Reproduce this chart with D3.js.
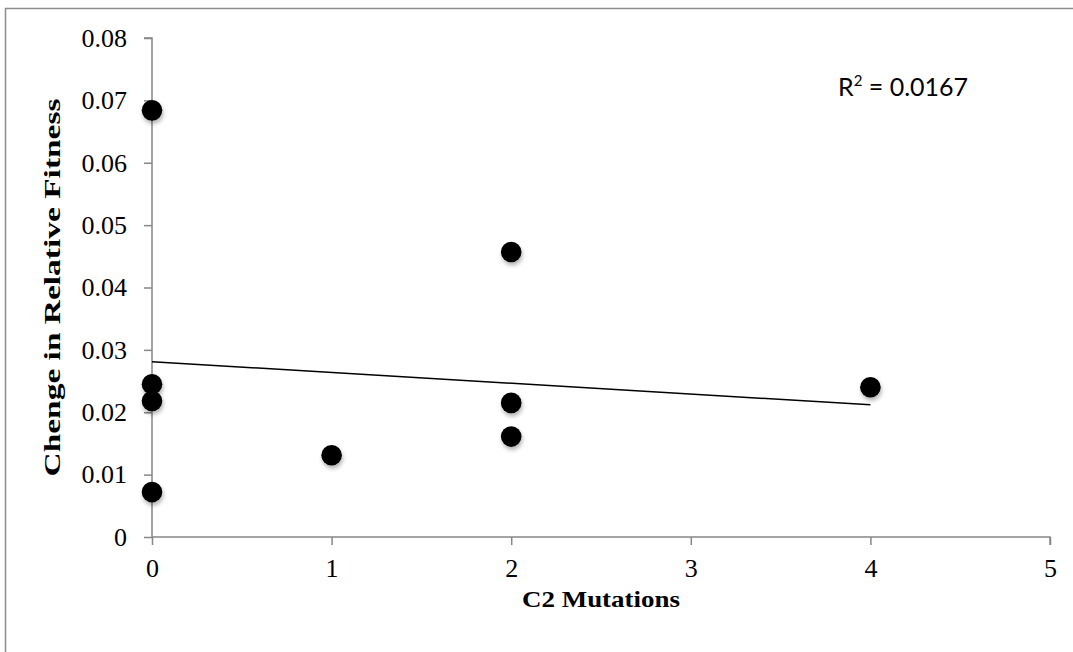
<!DOCTYPE html>
<html>
<head>
<meta charset="utf-8">
<script src="https://cdn.jsdelivr.net/npm/d3@7"></script>
<style>
  html, body { margin: 0; padding: 0; background: #fff; }
  svg { display: block; }
</style>
</head>
<body>
<svg id="chart" width="1073" height="652"></svg>
<script>
// ---- data ----
const mutations = [0, 0, 0, 0, 1, 2, 2, 2, 4];
const fitnessChange = [0.0684, 0.0245, 0.0218, 0.0072, 0.0131, 0.0457, 0.0215, 0.0161, 0.0240];
const trendX = [0, 4];
const trendY = [0.0281, 0.0212];
const xTicks = [0, 1, 2, 3, 4, 5];
const yTicks = [0, 0.01, 0.02, 0.03, 0.04, 0.05, 0.06, 0.07, 0.08];
const yTickLabels = ["0", "0.01", "0.02", "0.03", "0.04", "0.05", "0.06", "0.07", "0.08"];
const xTitle = "C2 Mutations";
const yTitle = "Chenge in Relative Fitness";
const r2Label = "0.0167";

const svg = d3.select("#chart");
const axisColor = "#878787";
const serif = "'Liberation Serif', 'Times New Roman', serif";

// outer border
svg.append("rect")
  .attr("x", 5.5).attr("y", 8.5)
  .attr("width", 1100).attr("height", 700)
  .attr("fill", "none").attr("stroke", "#8c8c8c").attr("stroke-width", 1.5);

const x = d3.scaleLinear().domain([0, 5]).range([152, 1050]);
const y = d3.scaleLinear().domain([0, 0.08]).range([537, 38]);

// drop shadow
const defs = svg.append("defs");
const f = defs.append("filter").attr("id", "shadow")
  .attr("x", "-50%").attr("y", "-50%").attr("width", "200%").attr("height", "200%");
f.append("feDropShadow").attr("dx", 1).attr("dy", 3).attr("stdDeviation", 2)
  .attr("flood-color", "#000").attr("flood-opacity", 0.3);

// y axis
const yAxis = svg.append("g").attr("transform", `translate(${x(0)},0)`)
  .call(d3.axisLeft(y).tickValues(yTicks).tickSize(8).tickPadding(17)
    .tickFormat((d, i) => yTickLabels[i]));
yAxis.select(".domain").attr("d", `M-8,${y(0.08)}H0V${y(0)}`);

// x axis
const xAxis = svg.append("g").attr("transform", `translate(0,${y(0)})`)
  .call(d3.axisBottom(x).tickValues(xTicks).tickSize(8).tickPadding(14)
    .tickFormat(d3.format("d")));
xAxis.select(".domain").attr("d", `M${x(0)},0H${x(5)}V8`);

[yAxis, xAxis].forEach(g => {
  g.selectAll(".domain").attr("stroke", axisColor).attr("stroke-width", 1.5).attr("fill", "none");
  g.selectAll(".tick line").attr("stroke", axisColor).attr("stroke-width", 1.5);
  g.selectAll(".tick text").attr("fill", "#000")
    .style("font-family", serif).style("font-size", "26px");
});

// trend line
const line = d3.line().x(d => x(d[0])).y(d => y(d[1]));
svg.append("path")
  .datum(trendX.map((v, i) => [v, trendY[i]]))
  .attr("d", line)
  .attr("fill", "none").attr("stroke", "#000").attr("stroke-width", 1.5);

// points
svg.append("g").selectAll("circle")
  .data(mutations.map((m, i) => [m, fitnessChange[i]]))
  .join("circle")
  .attr("cx", d => x(d[0])).attr("cy", d => y(d[1]))
  .attr("r", 10.3).attr("fill", "#000")
  .attr("filter", "url(#shadow)");

// axis titles
svg.append("text")
  .attr("x", (x(0) + x(5)) / 2).attr("y", 607)
  .attr("text-anchor", "middle")
  .attr("textLength", 158).attr("lengthAdjust", "spacingAndGlyphs")
  .style("font-family", serif).style("font-size", "23px").style("font-weight", "bold")
  .text(xTitle);

svg.append("text")
  .attr("transform", `translate(60,${(y(0) + y(0.08)) / 2}) rotate(-90)`)
  .attr("text-anchor", "middle")
  .attr("textLength", 378).attr("lengthAdjust", "spacingAndGlyphs")
  .style("font-family", serif).style("font-size", "23px").style("font-weight", "bold")
  .text(yTitle);

// R^2 label
const r2 = svg.append("text")
  .attr("x", 838).attr("y", 96)
  .style("font-family", "Lato, 'Open Sans', sans-serif").style("font-size", "25px")
  .attr("fill", "#000");
r2.append("tspan").text("R");
r2.append("tspan").attr("dy", -10).style("font-size", "15px").text("2");
r2.append("tspan").attr("dy", 10).text(" = " + r2Label);
</script>
</body>
</html>
